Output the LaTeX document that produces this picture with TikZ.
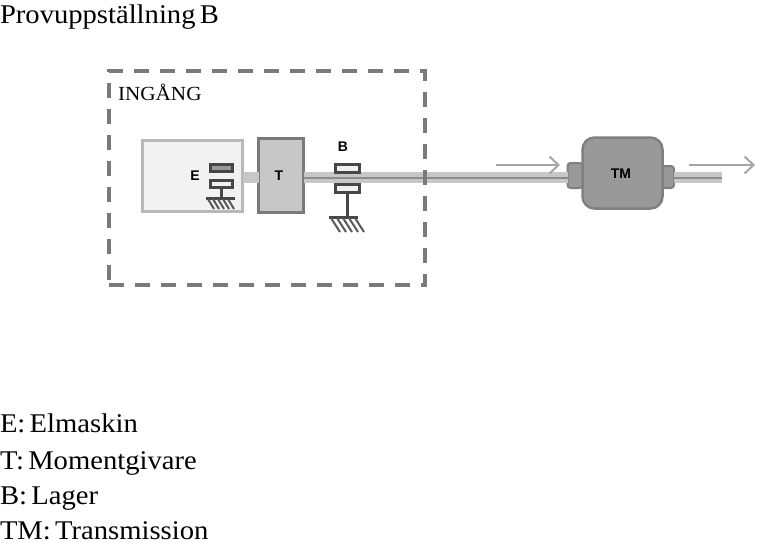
\documentclass[tikz,border=0pt]{standalone}
\usepackage{fontspec}
\setmainfont[FakeStretch=1.06,WordSpace=0.6]{Liberation Serif}
\setsansfont{Liberation Sans}
\usetikzlibrary{arrows.meta}

\begin{document}
\begin{tikzpicture}
      [x=1pt,y=-1pt,every node/.style={inner sep=0pt,outer sep=0pt}]

      \tikzstyle{caption} = [anchor=base west,font=\fontsize{27}{27}\selectfont]
      \tikzstyle{tag} = [font=\sffamily\bfseries\fontsize{14}{14}\selectfont]
      \tikzstyle{housing} = [draw=black!52,line width=3.5pt,dash pattern=on 15pt off 11pt]
      \tikzstyle{shaft} = [draw=black!22,line width=11pt]
      \tikzstyle{core} = [draw=black!45,line width=2pt]
      \tikzstyle{race} = [draw=black!72,fill=black!6,line width=3pt,minimum width=22pt,minimum height=7pt]
      \tikzstyle{post} = [draw=black!72,line width=3pt]
      \tikzstyle{flow} = [->,>={Straight Barb[length=9pt,width=17pt]},draw=black!35,line width=2pt]
      \tikzstyle{hatch} = [draw=black!65,line width=2pt]

      \useasboundingbox (0,0) rectangle (757,541);

      \node[caption] (title) at (0,23) {Provuppställning B};
      \node[caption] (lineE) at (0,432) {E: Elmaskin};
      \node[caption] (lineT) at (0,469) {T: Momentgivare};
      \node[caption] (lineB) at (0,504) {B: Lager};
      \node[caption] (lineTM) at (0,539) {TM: Transmission};

      \node[anchor=base west,font=\fontsize{20}{20}\selectfont] (inputlabel) at (118,100) {INGÅNG};

      \coordinate (axis) at (0,177.5);
      \coordinate (shaftend) at (722,177.5);

      \node[draw=black!28,fill=black!5,line width=3pt,minimum width=100pt,minimum height=71pt] (E) at (192.5,176) {};
      \node[draw=black!52,fill=black!22,line width=3.5pt,minimum width=45pt,minimum height=74pt] (T) at (281,175.5) {};
      \node[draw=black!50,fill=black!40,line width=2pt,rounded corners=3pt,minimum width=15pt,minimum height=25pt] (TMin) at (575,175.5) {};
      \node[draw=black!50,fill=black!40,line width=2pt,rounded corners=3pt,minimum width=12pt,minimum height=22pt] (TMout) at (668,177) {};
      \node[draw=black!50,fill=black!40,line width=2.5pt,rounded corners=12pt,minimum width=80pt,minimum height=71pt] (TM) at (622.5,173) {};

      \path[shaft]
            (E.east |- axis) edge (T.west |- axis)
            (T.east |- axis) edge (TMin.west |- axis)
            (TMout.east |- axis) edge (shaftend);
      \draw[core] (T.east |- axis) -- (TMin.west |- axis);
      \draw[core] (TMout.east |- axis) -- (shaftend);

      \node[housing,minimum width=316pt,minimum height=214pt] (input) at (267,178) {};

      % bearing inside the machine
      \node[race,fill=black!40] (Etop) at (221,167.5) {};
      \node[race] (Ebot) at (221,183.5) {};
      \coordinate (Efoot) at (221,198);
      \draw[post] (Ebot) -- (Efoot);
      \draw[post] (206,198) -- (235,198);
      \foreach \x in {208,213,...,228}
            \draw[hatch] (\x,199) -- (\x+6,209);

      % bearing on the shaft
      \node[race,minimum width=24pt,minimum height=8pt] (Btop) at (347.5,168.5) {};
      \node[race,minimum width=24pt,minimum height=8pt] (Bbot) at (347.5,188.5) {};
      \coordinate (Bfoot) at (347.5,217);
      \draw[post] (Bbot) -- (Bfoot);
      \draw[post] (329,217) -- (358,217);
      \foreach \x in {331,337,...,355}
            \draw[hatch] (\x,218) -- (\x+9,232);

      \node[tag] (Elabel) at (195,175.5) {E};
      \node[tag] (Tlabel) at (279,175.5) {T};
      \node[tag] (Blabel) at (343,147) {B};
      \node[tag] (TMlabel) at (621,173.5) {TM};

      \coordinate (flowa) at (496,165);
      \coordinate (flowb) at (560,165);
      \coordinate (flowc) at (689,165);
      \coordinate (flowd) at (755,165);
      \draw[flow] (flowa) -- (flowb);
      \draw[flow] (flowc) -- (flowd);
    \end{tikzpicture}
\end{document}
